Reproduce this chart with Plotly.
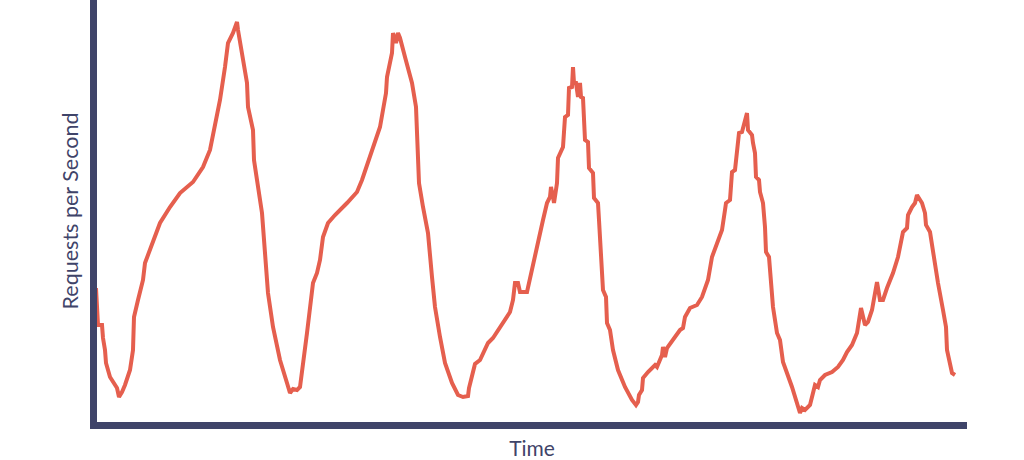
import plotly.graph_objects as go

time = [1, 3, 7, 8, 10, 11, 15, 22, 24, 27, 30, 33, 35, 38, 39, 43, 48, 50, 57, 65,
        75, 85, 98, 108, 115, 120, 125, 130, 133, 138, 142, 143, 148, 152, 153, 158, 159, 163, 167, 170,
        173, 178, 185, 192, 195, 198, 202, 205, 207, 212, 218, 222, 225, 228, 233, 240, 252, 262, 267, 275,
        285, 288, 291, 292, 297, 298, 301, 303, 305, 310, 317, 321, 322, 323, 324, 328, 333, 337, 340, 345,
        350, 357, 363, 368, 373, 374, 377, 380, 385, 390, 393, 398, 402, 408, 415, 418, 420, 423, 425, 432,
        435, 442, 448, 452, 455, 456, 458, 459, 462, 463, 468, 470, 473, 474, 477, 478, 479, 481, 483, 485,
        486, 488, 490, 493, 494, 498, 499, 503, 504, 506, 508, 511, 512, 515, 518, 523, 530, 537, 541, 543,
        544, 547, 548, 553, 560, 562, 567, 568, 570, 572, 578, 585, 588, 590, 595, 602, 607, 613, 617, 622,
        627, 630, 631, 635, 637, 640, 641, 643, 644, 647, 652, 653, 657, 658, 660, 661, 664, 665, 668, 670,
        671, 674, 675, 678, 682, 685, 688, 697, 705, 707, 710, 715, 718, 720, 723, 725, 730, 737, 743, 748,
        752, 757, 762, 766, 770, 773, 777, 782, 785, 788, 792, 798, 803, 808, 812, 813, 817, 820, 822, 827,
        830, 831, 835, 838, 843, 848, 851, 852, 855, 857, 860]

requests = [137, 100, 100, 87, 75, 62, 48, 37, 28, 33, 40, 50, 55, 75, 108, 125, 145, 162, 182, 202,
            218, 232, 243, 258, 275, 298, 325, 358, 382, 392, 403, 395, 365, 342, 318, 295, 265, 238, 212, 172,
            132, 98, 65, 42, 32, 36, 35, 38, 52, 92, 142, 152, 165, 188, 202, 210, 222, 233, 245, 268,
            298, 315, 332, 348, 372, 392, 382, 392, 387, 368, 342, 318, 288, 268, 242, 218, 192, 148, 118, 88,
            62, 42, 30, 28, 29, 37, 49, 61, 65, 75, 82, 87, 93, 102, 113, 125, 142, 142, 133, 133,
            148, 178, 205, 222, 228, 238, 228, 222, 242, 267, 278, 308, 310, 337, 338, 358, 342, 342, 328, 342,
            328, 327, 285, 283, 257, 252, 227, 222, 205, 175, 135, 128, 102, 95, 75, 55, 38, 25, 20, 23,
            30, 35, 47, 53, 60, 58, 70, 78, 68, 77, 85, 95, 97, 108, 117, 120, 128, 145, 168, 182,
            195, 215, 222, 225, 253, 255, 265, 280, 292, 293, 312, 295, 290, 282, 272, 248, 245, 233, 222, 198,
            173, 168, 155, 118, 92, 85, 63, 38, 12, 17, 15, 20, 32, 40, 38, 45, 50, 53, 58, 65,
            73, 80, 92, 117, 100, 103, 115, 143, 125, 125, 137, 152, 168, 193, 197, 210, 218, 222, 230, 222,
            212, 200, 193, 172, 142, 115, 98, 75, 63, 52, 50]

NAVY = "#3f4469"
CORAL = "#e55f4e"

fig = go.Figure()
fig.add_trace(go.Scatter(
    x=time, y=requests, mode="lines",
    line=dict(color=CORAL, width=4),
    hoverinfo="skip", showlegend=False, cliponaxis=False,
))

fig.update_layout(
    width=1024, height=460,
    margin=dict(l=97, r=57, t=0, b=38),
    paper_bgcolor="white", plot_bgcolor="white",
    font=dict(family="Lato, sans-serif", color=NAVY),
    xaxis=dict(
        range=[2, 872], showgrid=False, zeroline=False, showticklabels=False, ticks="",
        showline=True, linecolor=NAVY, linewidth=7,
        title=dict(text="Time", font=dict(size=21, color=NAVY), standoff=19),
    ),
    yaxis=dict(
        range=[3, 425], showgrid=False, zeroline=False, showticklabels=False, ticks="",
        showline=True, linecolor=NAVY, linewidth=7,
        title=dict(text="Requests per Second", font=dict(size=21.5, color=NAVY), standoff=8),
    ),
)

fig.write_html("out.html", config={"displayModeBar": False},
               post_script="document.body.style.margin='0';")
